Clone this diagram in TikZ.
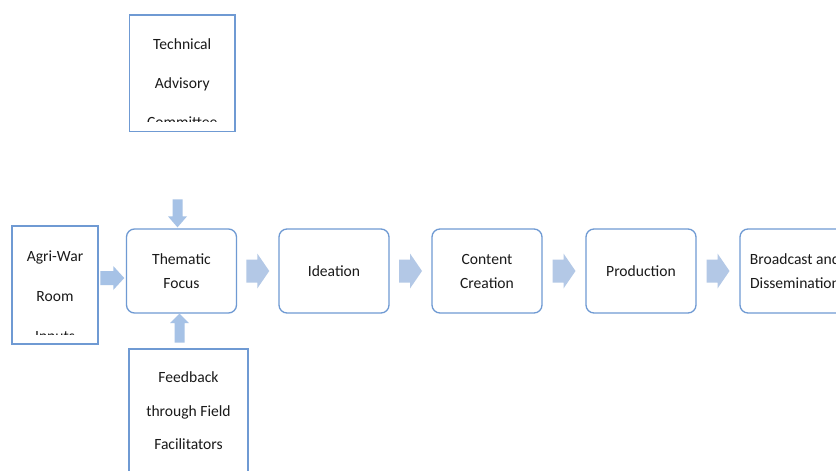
\documentclass[tikz,border=0pt]{standalone}
\usepackage{fontspec}
\setmainfont{Carlito}
\usetikzlibrary{calc}
\definecolor{boxline}{HTML}{6F9AD3}
\definecolor{arrowc}{HTML}{B3C8E6}
\definecolor{arrowd}{HTML}{A6C2E6}
\definecolor{txt}{HTML}{1A1A1A}
\tikzset{
  rbox/.style={draw=boxline, line width=1.3pt, rounded corners=8pt, minimum width=110pt, minimum height=84pt, inner sep=0pt, align=center, text=txt, font=\fontsize{15.6}{24}\selectfont},
  sbox/.style={draw=boxline, line width=1.3pt, inner sep=0pt},
  btext/.style={align=center, inner sep=0pt, text=txt},
  harrow/.pic={\fill[arrowc] (-11.5,-11.5) -- (-0.5,-11.5) -- (-0.5,-17.5) -- (11.5,0) -- (-0.5,17.5) -- (-0.5,11.5) -- (-11.5,11.5) -- cycle;},
  sarrow/.pic={\fill[arrowd] (-12,-7) -- (1,-7) -- (1,-12) -- (12,0) -- (1,12) -- (1,7) -- (-12,7) -- cycle;},
  darrow/.pic={\fill[arrowd] (-5,-14) -- (5,-14) -- (5,3) -- (9.5,3) -- (0,14) -- (-9.5,3) -- (-5,3) -- cycle;},
  uarrow/.pic={\fill[arrowd] (-5,14.5) -- (5,14.5) -- (5,-5) -- (9.5,-5) -- (0,-14.5) -- (-9.5,-5) -- (-5,-5) -- cycle;}
}
\begin{document}
\begin{tikzpicture}[x=1pt,y=-1pt]
\clip (0,0) rectangle (836,471);
\fill[white] (0,0) rectangle (836,471);
% main chain
\node[rbox] (tf) at (181.5,271) {Thematic\\Focus};
\node[rbox] (id) at (334,271) {Ideation};
\node[rbox] (cc) at (487,271) {Content\\Creation};
\node[rbox] (pr) at (641,271) {Production};
\node[rbox] (bd) at (795,271) {Broadcast and\\Dissemination};
% side boxes
\node[sbox, minimum width=105.5pt, minimum height=116.5pt] (tac) at (182.25,73.25) {};
\node[sbox, minimum width=86pt, minimum height=118pt] (agri) at (55,285) {};
\node[sbox, minimum width=119pt, minimum height=140pt] (fb) at (188.5,419) {};
% texts in side boxes (clipped)
\begin{scope}
\clip (130,15) rectangle (235,121);
\node[btext, font=\fontsize{15.6}{39}\selectfont] (tact) at (182.25,83) {Technical\\Advisory\\Committee};
\end{scope}
\begin{scope}
\clip (12,226) rectangle (98,334);
\node[btext, font=\fontsize{15.6}{40}\selectfont] (agrit) at (55,297) {Agri-War\\Room\\Inputs};
\end{scope}
\node[btext, font=\fontsize{15.6}{33.5}\selectfont] (fbt) at (188.5,411) {Feedback\\through Field\\Facilitators};
% block arrows
\pic at ($(agri.east)!0.5!(tf.west)$) {sarrow};
\pic at ($(tf.east)!0.5!(id.west)$) {harrow};
\pic at ($(id.east)!0.5!(cc.west)$) {harrow};
\pic at ($(cc.east)!0.5!(pr.west)$) {harrow};
\pic at ($(pr.east)!0.5!(bd.west)$) {harrow};
\pic at ([xshift=-4pt,yshift=15pt]tf.north) {darrow};
\pic at ([xshift=-2pt,yshift=-14.5pt]tf.south) {uarrow};
\end{tikzpicture}
\end{document}
